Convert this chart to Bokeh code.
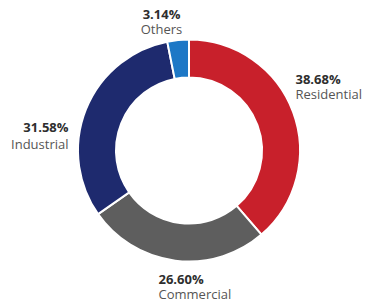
import math
from bokeh.plotting import figure
from bokeh.models import ColumnDataSource, Range1d
from bokeh.core.properties import value
from bokeh.embed import file_html
from bokeh.resources import INLINE

# ---- data ----
categories = ["Residential", "Commercial", "Industrial", "Others"]
shares = [38.68, 26.60, 31.58, 3.14]
pct_labels = ["38.68%", "26.60%", "31.58%", "3.14%"]
colors = ["#c8202b", "#5e5e5e", "#1e2a6e", "#1d78c6"]

# ---- layout (pixels within the figure) ----
W, H = 368, 304
cx, cy = 188.5, 154
r_out, r_in = 111, 73

total = sum(shares)
starts, ends = [], []
cum = 0.0
for s in shares:
    starts.append(math.pi / 2 - 2 * math.pi * cum / total)
    cum += s
    ends.append(math.pi / 2 - 2 * math.pi * cum / total)

src = ColumnDataSource(dict(cat=categories, start=starts, end=ends, color=colors))

p = figure(width=W, height=H, output_backend="svg", toolbar_location=None,
           x_range=Range1d(0, W), y_range=Range1d(0, H),
           min_border=0, min_border_left=0, min_border_right=0,
           min_border_top=0, min_border_bottom=0)
p.axis.visible = False
p.grid.visible = False
p.outline_line_color = None
p.background_fill_color = "white"
p.border_fill_color = "white"

p.annular_wedge(x=cx, y=cy, inner_radius=r_in, outer_radius=r_out,
                start_angle="start", end_angle="end", direction="clock",
                fill_color="color", line_color="white", line_width=2,
                source=src)

# label placement (layout only)
lab_x = [295, 158, 68, 161]
lab_y_pct = [226, 25.5, 178, 291]
lab_y_name = [211, 11, 161, 276]
lab_align = ["left", "left", "right", "center"]

lsrc = ColumnDataSource(dict(x=lab_x, yp=lab_y_pct, yn=lab_y_name,
                             pct=pct_labels, name=categories, align=lab_align))

p.text(x="x", y="yp", text="pct", source=lsrc, text_align="align",
       text_baseline="middle", text_font=value("Open Sans"),
       text_font_size="13px", text_font_style="bold", text_color="#2e2e2e")
p.text(x="x", y="yn", text="name", source=lsrc, text_align="align",
       text_baseline="middle", text_font=value("Open Sans"),
       text_font_size="13px", text_color="#555555")

open("out.html", "w").write(file_html(p, INLINE))
